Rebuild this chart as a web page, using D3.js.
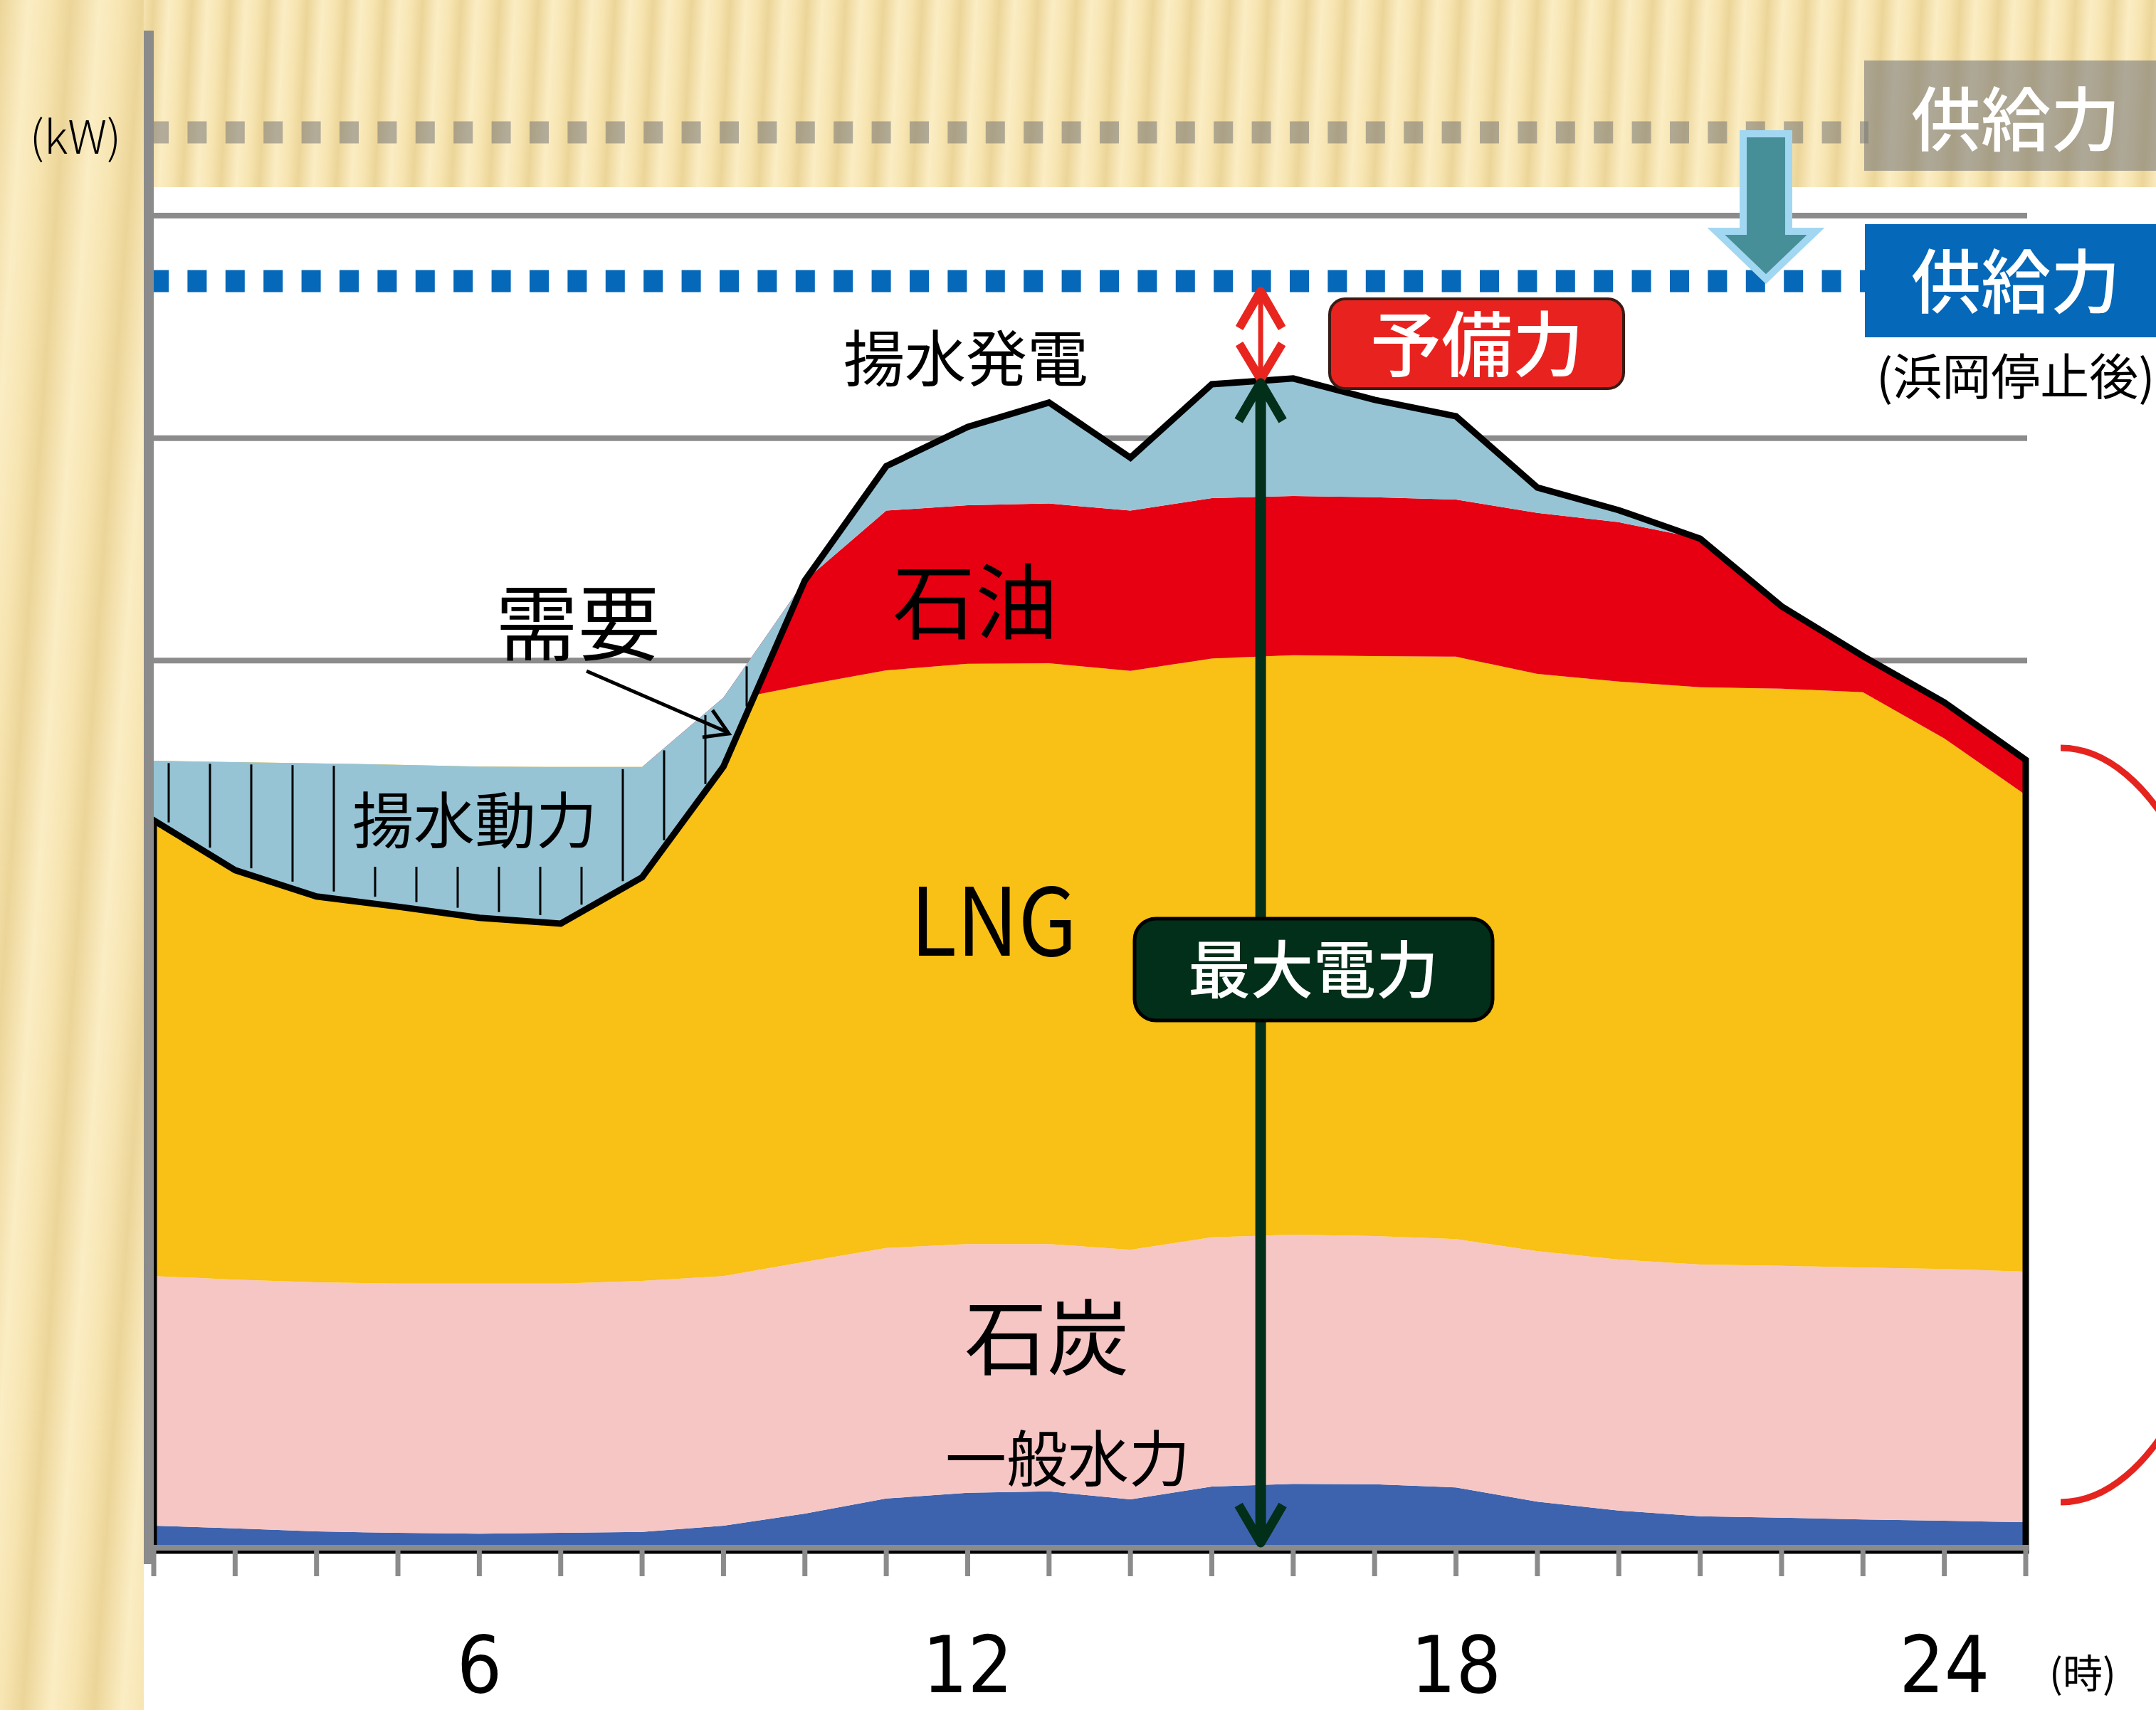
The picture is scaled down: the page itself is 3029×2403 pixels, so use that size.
<!DOCTYPE html>
<html>
<head>
<meta charset="utf-8">
<script src="https://cdn.jsdelivr.net/npm/d3@7"></script>
<style>
  body { margin: 0; background: #fff; }
  svg { display: block; }
  text { font-family: "Noto Sans CJK JP", sans-serif; }
</style>
</head>
<body>
<div id="chart"></div>
<script>
// Données (万kW)
const hours     = d3.range(2, 26);   // positions horaires des sommets
const tickHours = [6, 12, 18, 24];
const gridValues = [2000, 2500, 3000];

const demand  = [1641, 1529, 1470, 1447, 1422, 1409, 1513, 1762, 2180, 2437, 2525, 2580,
                 2456, 2621, 2634, 2586, 2549, 2389, 2338, 2274, 2122, 2010, 1906, 1777];
const hydro   = [56, 50, 43, 40, 38, 40, 42, 56, 83, 117, 130, 133,
                 115, 144, 150, 149, 142, 110, 90, 77, 74, 70, 67, 64];
const coal    = [561, 559, 560, 560, 562, 560, 564, 561, 566, 563, 559, 556,
                 561, 560, 560, 558, 558, 563, 564, 566, 566, 566, 566, 563];
const lng     = [1158, 1163, 1166, 1166, 1162, 1161, 1155, 1292, 1296, 1298, 1304, 1305,
                 1301, 1301, 1302, 1303, 1309, 1297, 1299, 1297, 1297, 1293, 1192, 1071];
const oil     = [0, 0, 0, 0, 0, 0, 0, 8, 235, 359, 356, 359,
                 360, 360, 358, 357, 353, 362, 358, 334, 185, 81, 81, 79];
const pumpGen = [0, 0, 0, 0, 0, 0, 0, 0, 0, 100, 176, 227,
                 119, 256, 264, 219, 187, 57, 27, 0, 0, 0, 0, 0];

const supplyBefore = 3187;  // 供給力
const supplyAfter  = 2853;  // 供給力（浜岡停止後）
const peakHour     = 15.6;  // position des flèches

const keys   = ["hydro", "coal", "lng", "oil", "pumpGen"];
const colors = { hydro: "#3d63ae", coal: "#f6c6c5", lng: "#f9c015", oil: "#e60012", pumpGen: "#96c4d5" };

const W = 3029, H = 2403;

const x = d3.scaleLinear().domain([2, 25]).range([216, 2846]);
const y = d3.scaleLinear().domain([0, 3000]).range([2179, 303]);

const table = hours.map((h, i) => ({
  hour: h, hydro: hydro[i], coal: coal[i], lng: lng[i], oil: oil[i], pumpGen: pumpGen[i]
}));
const total = table.map(d => keys.reduce((s, k) => s + d[k], 0));

function at(series, h) {
  const i = Math.max(0, Math.min(hours.length - 2, d3.bisectRight(hours, h) - 1));
  const t = (h - hours[i]) / (hours[i + 1] - hours[i]);
  return series[i] * (1 - t) + series[i + 1] * t;
}

const svg = d3.select("#chart").append("svg")
  .attr("width", W).attr("height", H);

// Fond beige rayé
const defs = svg.append("defs");
function rayures(id, largeur, skew) {
  const g = defs.append("linearGradient").attr("id", id + "-g")
    .attr("x1", 0).attr("x2", 1).attr("y1", 0).attr("y2", 0);
  g.append("stop").attr("offset", 0).attr("stop-color", "#ecd598");
  g.append("stop").attr("offset", 0.4).attr("stop-color", "#fbedc4");
  g.append("stop").attr("offset", 0.7).attr("stop-color", "#f7e5b2");
  g.append("stop").attr("offset", 1).attr("stop-color", "#ecd598");
  defs.append("pattern").attr("id", id)
    .attr("patternUnits", "userSpaceOnUse")
    .attr("width", largeur).attr("height", H)
    .attr("patternTransform", `skewX(${skew})`)
    .append("rect").attr("width", largeur).attr("height", H).attr("fill", `url(#${id}-g)`);
}
rayures("beige", 54, -3);
rayures("beige2", 100, -4);

svg.append("rect").attr("width", W).attr("height", H).attr("fill", "#fff");
svg.append("rect").attr("width", W).attr("height", 263).attr("fill", "url(#beige)");
svg.append("rect").attr("width", 202).attr("height", H).attr("fill", "url(#beige2)");

// Quadrillage
svg.append("g").selectAll("line").data(gridValues).join("line")
  .attr("x1", x(2)).attr("x2", x(25) + 2)
  .attr("y1", d => y(d)).attr("y2", d => y(d))
  .attr("stroke", "#8b8b8b").attr("stroke-width", 8);

// Lignes de供給力
svg.append("line")
  .attr("x1", 210).attr("x2", 2625)
  .attr("y1", y(supplyBefore)).attr("y2", y(supplyBefore))
  .attr("stroke", "#767676").attr("stroke-opacity", 0.55)
  .attr("stroke-width", 31).attr("stroke-dasharray", "27 26.4");
svg.append("line")
  .attr("x1", 210).attr("x2", 2625)
  .attr("y1", y(supplyAfter)).attr("y2", y(supplyAfter))
  .attr("stroke", "#0568b8").attr("stroke-width", 31).attr("stroke-dasharray", "27 26.4");

// Aires empilées
const series = d3.stack().keys(keys)(table);
const area = d3.area()
  .x(d => x(d.data.hour))
  .y0(d => y(d[0]))
  .y1(d => y(d[1]));
svg.append("g").selectAll("path").data(series).join("path")
  .attr("d", area)
  .attr("fill", d => colors[d.key]);

// 揚水動力 (entre la demande et la production)
const nPump = 9;
const pumpArea = d3.area()
  .x((d, i) => x(hours[i]))
  .y0((d, i) => y(demand[i]))
  .y1((d, i) => y(total[i]));
svg.append("path")
  .attr("d", pumpArea(d3.range(nPump)))
  .attr("fill", colors.pumpGen);

// Hachures verticales
const texteBas = 1218;
const hachures = d3.range(237, 1060, 58).map(hx => {
  const h = x.invert(hx);
  let top = y(at(total, h)) + 3;
  const bottom = y(at(demand, h)) - 10;
  if (hx > 480 && hx < 850) top = Math.max(top, texteBas);
  return { hx, top, bottom };
}).filter(d => d.bottom - d.top > 20);
svg.append("g").selectAll("line").data(hachures).join("line")
  .attr("x1", d => d.hx).attr("x2", d => d.hx)
  .attr("y1", d => d.top).attr("y2", d => d.bottom)
  .attr("stroke", "#000").attr("stroke-width", 3);

// Contour de la demande
const contour = d3.line()
  .x(d => x(d[0])).y(d => y(d[1]));
const pts = [[hours[0], 0], ...hours.map((h, i) => [h, demand[i]]), [hours[hours.length - 1], 0]];
svg.append("path")
  .attr("d", contour(pts) + "Z")
  .attr("fill", "none").attr("stroke", "#000")
  .attr("stroke-width", 9).attr("stroke-linejoin", "miter").attr("stroke-miterlimit", 4);

// Axes
svg.append("line")
  .attr("x1", 209).attr("x2", x(25) + 4)
  .attr("y1", 2175).attr("y2", 2175)
  .attr("stroke", "#8b8b8b").attr("stroke-width", 8);
svg.append("g").selectAll("line").data(hours).join("line")
  .attr("x1", d => x(d)).attr("x2", d => x(d))
  .attr("y1", 2175).attr("y2", 2215)
  .attr("stroke", "#8b8b8b").attr("stroke-width", 7);
svg.append("line")
  .attr("x1", 209).attr("x2", 209)
  .attr("y1", 43).attr("y2", 2198)
  .attr("stroke", "#8b8b8b").attr("stroke-width", 14);

svg.append("g").selectAll("text").data(tickHours).join("text")
  .attr("x", d => x(d)).attr("y", 2378)
  .attr("text-anchor", "middle")
  .style("font-family", "'DejaVu Sans Condensed', sans-serif")
  .attr("font-size", 111)
  .text(d => d);
svg.append("text").attr("x", 2926).attr("y", 2372)
  .attr("text-anchor", "middle").attr("font-size", 56).text("(時)");
svg.append("text").attr("x", 106).attr("y", 216)
  .attr("text-anchor", "middle").attr("font-size", 64).attr("font-weight", 300).text("(kW)");

// Libellés (centre x, centre y, taille)
const labels = [
  { t: "需要",     cx: 812,  cy: 875,  s: 116 },
  { t: "揚水動力", cx: 667,  cy: 1152, s: 86 },
  { t: "揚水発電", cx: 1357, cy: 503,  s: 86 },
  { t: "石油",     cx: 1370, cy: 845,  s: 116 },
  { t: "石炭",     cx: 1471, cy: 1879, s: 116 },
  { t: "一般水力", cx: 1500, cy: 2049, s: 86 }
];
svg.append("g").selectAll("text").data(labels).join("text")
  .attr("x", d => d.cx).attr("y", d => d.cy + d.s * 0.38)
  .attr("text-anchor", "middle").attr("font-size", d => d.s)
  .text(d => d.t);
svg.append("text").attr("x", 1396).attr("y", 1343)
  .attr("text-anchor", "middle").attr("font-size", 132)
  .attr("textLength", 234).attr("lengthAdjust", "spacingAndGlyphs")
  .text("LNG");

// Flèche du需要
svg.append("line").attr("x1", 824).attr("y1", 943).attr("x2", 1022).attr("y2", 1029)
  .attr("stroke", "#000").attr("stroke-width", 5);
svg.append("path").attr("d", "M1001,998 L1024,1031 L987,1036")
  .attr("fill", "none").attr("stroke", "#000").attr("stroke-width", 5);

// Flèches 予備力 / 最大電力
const ax = x(peakHour);
const yPeak = y(at(demand, peakHour));
const ySup = y(supplyAfter) + 14;
const rouge = "#e8251f", vert = "#022f19";
svg.append("line").attr("x1", ax).attr("x2", ax).attr("y1", ySup + 10).attr("y2", yPeak - 10)
  .attr("stroke", rouge).attr("stroke-width", 7);
svg.append("path").attr("d", `M${ax - 30},${ySup + 52} L${ax},${ySup} L${ax + 30},${ySup + 52}`)
  .attr("fill", "none").attr("stroke", rouge).attr("stroke-width", 12).attr("stroke-linejoin", "round");
svg.append("path").attr("d", `M${ax - 30},${yPeak - 52} L${ax},${yPeak - 2} L${ax + 30},${yPeak - 52}`)
  .attr("fill", "none").attr("stroke", rouge).attr("stroke-width", 12).attr("stroke-linejoin", "round");

const yBas = y(0) - 11;
svg.append("line").attr("x1", ax).attr("x2", ax).attr("y1", yPeak + 6).attr("y2", yBas - 6)
  .attr("stroke", vert).attr("stroke-width", 15);
svg.append("path").attr("d", `M${ax - 31},${yPeak + 56} L${ax},${yPeak + 3} L${ax + 31},${yPeak + 56}`)
  .attr("fill", "none").attr("stroke", vert).attr("stroke-width", 13).attr("stroke-linejoin", "round");
svg.append("path").attr("d", `M${ax - 31},${yBas - 53} L${ax},${yBas} L${ax + 31},${yBas - 53}`)
  .attr("fill", "none").attr("stroke", vert).attr("stroke-width", 13).attr("stroke-linejoin", "round");

// Boîtes
svg.append("rect").attr("x", 1868).attr("y", 420).attr("width", 413).attr("height", 126)
  .attr("rx", 22).attr("fill", "#e8231f").attr("stroke", "#3b1b14").attr("stroke-width", 4);
svg.append("text").attr("x", 2075).attr("y", 483 + 100 * 0.38)
  .attr("text-anchor", "middle").attr("font-size", 100).attr("font-weight", 500)
  .attr("fill", "#fff").text("予備力");

svg.append("rect").attr("x", 1594).attr("y", 1291).attr("width", 503).attr("height", 143)
  .attr("rx", 30).attr("fill", vert).attr("stroke", "#000").attr("stroke-width", 5);
svg.append("text").attr("x", 1845).attr("y", 1362 + 88 * 0.38)
  .attr("text-anchor", "middle").attr("font-size", 88).attr("font-weight", 500)
  .attr("fill", "#fff").text("最大電力");

svg.append("rect").attr("x", 2619).attr("y", 85).attr("width", 420).attr("height", 155)
  .attr("fill", "#7a7a7a").attr("fill-opacity", 0.6);
svg.append("text").attr("x", 2832).attr("y", 167 + 98 * 0.38)
  .attr("text-anchor", "middle").attr("font-size", 98).attr("font-weight", 500)
  .attr("fill", "#fff").text("供給力");

svg.append("rect").attr("x", 2620).attr("y", 315).attr("width", 420).attr("height", 159)
  .attr("fill", "#0568b8");
svg.append("text").attr("x", 2832).attr("y", 395 + 98 * 0.38)
  .attr("text-anchor", "middle").attr("font-size", 98).attr("font-weight", 500)
  .attr("fill", "#fff").text("供給力");
svg.append("text").attr("x", 2636).attr("y", 529 + 69 * 0.38)
  .attr("font-size", 69).text("(浜岡停止後)");

// Flèche descendante
svg.append("path")
  .attr("d", "M2449,188 L2513,188 L2513,325 L2551,325 L2481,392 L2411,325 L2449,325 Z")
  .attr("fill", "#468f98").attr("stroke", "#a2d7f2").attr("stroke-width", 10);

// Accolade rouge à droite
svg.append("path").attr("d", "M2895,1051 A250,530 0 0 1 2895,2111")
  .attr("fill", "none").attr("stroke", "#e52420").attr("stroke-width", 9);
</script>
</body>
</html>
